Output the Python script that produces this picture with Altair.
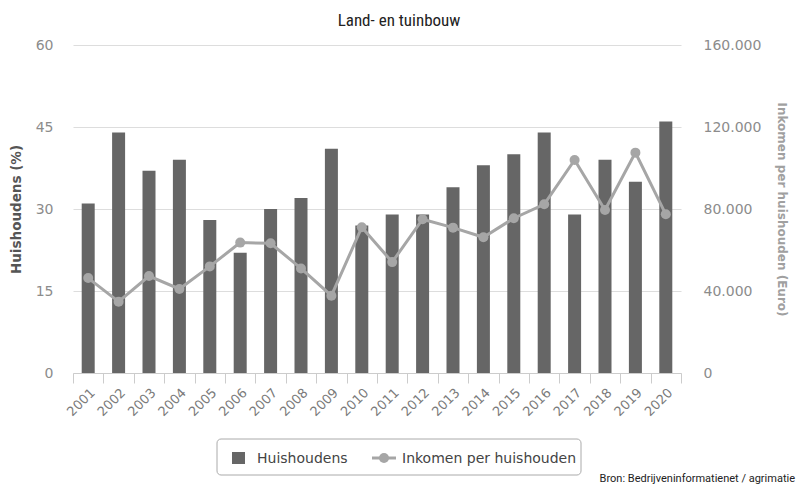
import altair as alt
import pandas as pd

years = [str(y) for y in range(2001, 2021)]
huishoudens = [31, 44, 37, 39, 28, 22, 30, 32, 41, 27, 29, 29, 34, 38, 40, 44, 29, 39, 35, 46]
inkomen = [46300, 34800, 47300, 41000, 52000, 63600, 63300, 51000, 37700, 71100,
           54100, 75000, 70900, 66200, 75500, 82300, 103900, 79500, 107500, 77400]
left_ticks = [0, 15, 30, 45, 60]
right_ticks = [0, 40000, 80000, 120000, 160000]

title_text = "Land- en tuinbouw"
legend_labels = ["Huishoudens", "Inkomen per huishouden"]
source_text = "Bron: Bedrijveninformatienet / agrimatie"

BAR = "#666666"
LINE = "#a6a6a6"
LABEL = "#8c8c8c"
AXFONT = "DejaVu Sans"

df = pd.DataFrame({"Jaar": years, "Huishoudens": huishoudens, "Inkomen": inkomen})
one = pd.DataFrame({"a": [0]})

x_enc = alt.X(
    "Jaar:N",
    sort=years,
    scale=alt.Scale(paddingInner=0, paddingOuter=0),
    axis=alt.Axis(
        title=None, labelAngle=-45, labelFontSize=13, labelColor="#7a7a7a", labelFont=AXFONT,
        domainColor="#cccccc", tickColor="#cccccc", tickSize=10, tickBand="extent",
        labelPadding=3, grid=False,
    ),
)

bars = alt.Chart(df).mark_bar(size=13, color=BAR).encode(
    x=x_enc,
    y=alt.Y(
        "Huishoudens:Q",
        scale=alt.Scale(domain=[0, 60], nice=False),
        axis=alt.Axis(
            values=left_ticks, title="Huishoudens (%)", titleFontSize=13.5, titleFontWeight="bold",
            titleColor="#555555", titleFont=AXFONT, titlePadding=12, labelFontSize=14,
            labelColor=LABEL, labelFont=AXFONT, labelPadding=20, domain=False, ticks=False,
            grid=True, gridColor="#dddddd", orient="left",
        ),
    ),
)

y2 = alt.Y(
    "Inkomen:Q",
    scale=alt.Scale(domain=[0, 160000], nice=False),
    axis=alt.Axis(
        values=right_ticks, orient="right", title="Inkomen per huishouden (Euro)",
        titleFontSize=12, titleFontWeight="bold", titleColor="#a0a0a0", titleFont=AXFONT,
        titlePadding=14, labelFontSize=14, labelColor=LABEL, labelFont=AXFONT, labelPadding=22,
        domain=False, ticks=False, grid=False,
        labelExpr="datum.value == 0 ? '0' : format(datum.value / 1000, 'd') + '.000'",
    ),
)

line = alt.Chart(df).mark_line(color=LINE, strokeWidth=3).encode(x=x_enc, y=y2)
points = alt.Chart(df).mark_point(filled=True, size=100, color=LINE, opacity=1).encode(x=x_enc, y=y2)

data_layers = alt.layer(bars, line + points).resolve_scale(y="independent")

title = alt.Chart(one).mark_text(
    font="Liberation Sans Narrow, Roboto Condensed, Arial Narrow, sans-serif",
    fontSize=17, color="#222222", align="center", baseline="middle",
).encode(x=alt.value(326), y=alt.value(-24.5), text=alt.value(title_text))

legend_box = alt.Chart(one).mark_rect(
    fill="white", stroke="#aaaaaa", strokeWidth=1, cornerRadius=4,
).encode(x=alt.value(144), x2=alt.value(508), y=alt.value(394), y2=alt.value(430))

legend_sq = alt.Chart(one).mark_rect(fill=BAR).encode(
    x=alt.value(159), x2=alt.value(172), y=alt.value(407), y2=alt.value(419)
)
legend_t1 = alt.Chart(one).mark_text(
    font=AXFONT, fontSize=14, color="#444444", align="left", baseline="middle"
).encode(x=alt.value(184), y=alt.value(414), text=alt.value(legend_labels[0]))

legend_line = alt.Chart(one).mark_rule(color=LINE, strokeWidth=3).encode(
    x=alt.value(299), x2=alt.value(323), y=alt.value(413)
)
legend_pt = alt.Chart(one).mark_point(filled=True, size=100, color=LINE, opacity=1).encode(
    x=alt.value(311), y=alt.value(413)
)
legend_t2 = alt.Chart(one).mark_text(
    font=AXFONT, fontSize=14, color="#444444", align="left", baseline="middle"
).encode(x=alt.value(329), y=alt.value(414), text=alt.value(legend_labels[1]))

source = alt.Chart(one).mark_text(
    font="Roboto", fontSize=11, color="#222222", align="right", baseline="middle"
).encode(x=alt.value(722), y=alt.value(434), text=alt.value(source_text))

chart = alt.layer(
    data_layers, title, legend_box, legend_sq, legend_t1, legend_line, legend_pt, legend_t2, source
).resolve_scale(y="independent").properties(
    width=608, height=328,
    autosize=alt.AutoSizeParams(type="none"),
    padding={"left": 73, "top": 45, "right": 116, "bottom": 114},
).configure_view(stroke=None)

chart.save("out.html", embed_options={"renderer": "svg", "actions": False})
